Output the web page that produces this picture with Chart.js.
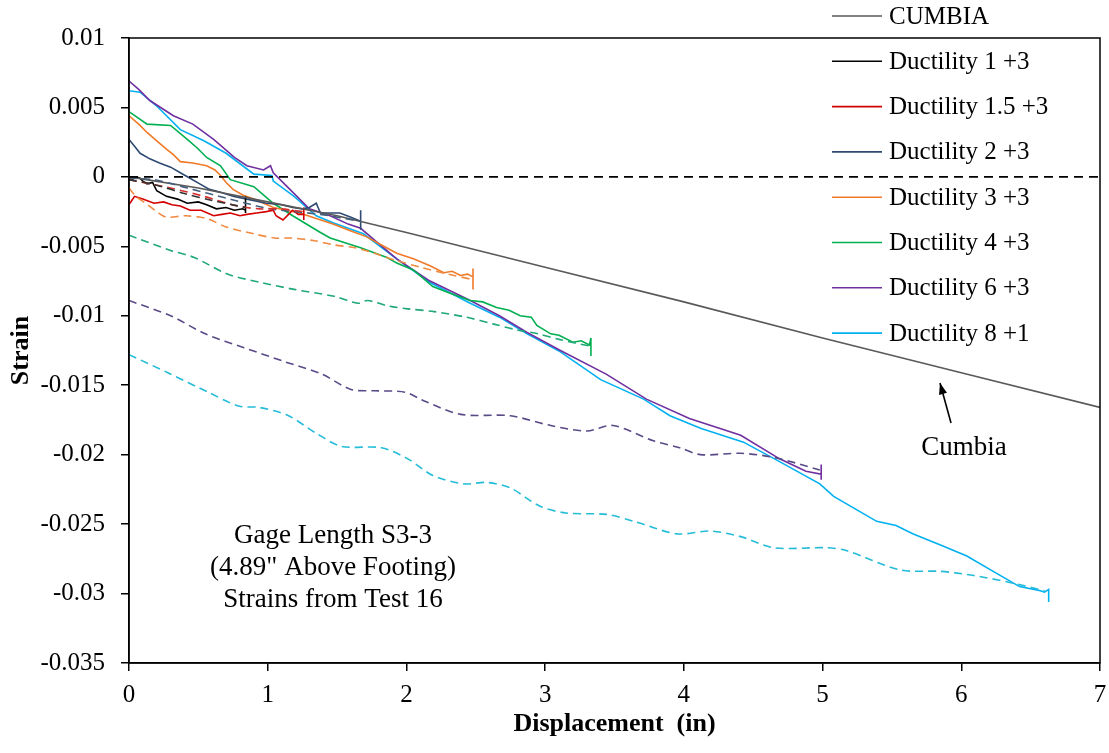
<!DOCTYPE html>
<html lang="en">
<head>
    <meta charset="UTF-8">
    <title>Strain vs Displacement - Gage Length S3-3</title>
    <script src="https://cdn.jsdelivr.net/npm/chart.js"></script>
    <style>
        body {
            margin: 0;
            background: #ffffff;
        }
        #wrap {
            width: 1109px;
            height: 753px;
        }
    </style>
</head>
<body>
    <div id="wrap">
        <canvas id="strainChart" width="1109" height="753"></canvas>
    </div>
    <script>
        // Datos (desplazamiento en pulgadas, deformacion unitaria)
        const cumbiaX = [0, 0.5, 1, 1.5, 2, 3, 4, 5, 6, 7];
        const cumbiaY = [0, -0.0008, -0.0018, -0.0028, -0.0040, -0.0065, -0.0090, -0.0116, -0.0141, -0.0166];

        const zeroX = [0, 7];
        const zeroY = [0, 0];

        const d1X = [0, 0.02, 0.05, 0.08, 0.1, 0.13, 0.17, 0.2, 0.27, 0.35, 0.42, 0.5, 0.56, 0.63, 0.7, 0.76, 0.82, 0.84, 0.84, 0.84];
        const d1Y = [0, -0.0002, 0, -0.0001, -0.0003, -0.0005, -0.0004, -0.0010, -0.0014, -0.0016, -0.0019, -0.0018, -0.0020, -0.0023, -0.0022, -0.0024, -0.0023, -0.0024, -0.0014, -0.0026];
        const d1DashX = [0, 0.2, 0.4, 0.6, 0.84];
        const d1DashY = [-0.0002, -0.0006, -0.0012, -0.0017, -0.0022];

        const d15X = [0, 0.02, 0.04, 0.1, 0.18, 0.25, 0.31, 0.37, 0.44, 0.52, 0.61, 0.67, 0.73, 0.8, 0.85, 0.92, 0.99, 1.04, 1.06, 1.11, 1.15, 1.18, 1.22, 1.26, 1.26, 1.26];
        const d15Y = [-0.0020, -0.0017, -0.0014, -0.0016, -0.0019, -0.0018, -0.0020, -0.0021, -0.0024, -0.0024, -0.0028, -0.0027, -0.0026, -0.0028, -0.0027, -0.0026, -0.0025, -0.0024, -0.0028, -0.0031, -0.0027, -0.0024, -0.0027, -0.0027, -0.0022, -0.0031];
        const d15DashX = [0, 0.3, 0.54, 0.78, 0.94, 1.09, 1.26];
        const d15DashY = [-0.0002, -0.0008, -0.0014, -0.0021, -0.0023, -0.0023, -0.0025];

        const d2X = [0, 0.04, 0.08, 0.15, 0.22, 0.3, 0.37, 0.44, 0.51, 0.58, 0.66, 0.75, 0.85, 0.99, 1.1, 1.18, 1.25, 1.3, 1.35, 1.38, 1.45, 1.52, 1.6, 1.67, 1.67, 1.67];
        const d2Y = [0.0027, 0.0022, 0.0017, 0.0013, 0.0010, 0.0007, 0.0003, -0.0001, -0.0005, -0.0009, -0.0011, -0.0014, -0.0016, -0.0019, -0.0020, -0.0022, -0.0023, -0.0022, -0.0019, -0.0026, -0.0026, -0.0026, -0.0029, -0.0032, -0.0024, -0.0038];
        const d2DashX = [0, 0.18, 0.42, 0.73, 1.02, 1.38, 1.67];
        const d2DashY = [-0.0001, -0.0002, -0.0008, -0.0016, -0.0023, -0.0027, -0.0032];

        const d3X = [0, 0.07, 0.13, 0.2, 0.27, 0.32, 0.37, 0.46, 0.56, 0.62, 0.66, 0.7, 0.75, 0.82, 0.9, 1.04, 1.23, 1.35, 1.47, 1.6, 1.71, 1.82, 1.93, 2.05, 2.17, 2.27, 2.33, 2.39, 2.44, 2.48, 2.48, 2.48];
        const d3Y = [0.0044, 0.0038, 0.0032, 0.0026, 0.0020, 0.0016, 0.0011, 0.0010, 0.0008, 0.0005, 0.0001, -0.0004, -0.0009, -0.0013, -0.0016, -0.0022, -0.0026, -0.0030, -0.0034, -0.0039, -0.0043, -0.0049, -0.0055, -0.0059, -0.0064, -0.0069, -0.0068, -0.0071, -0.0070, -0.0072, -0.0066, -0.0081];
        const d3DashX = [0, 0.05, 0.12, 0.2, 0.27, 0.41, 0.56, 0.7, 0.9, 1.05, 1.17, 1.34, 1.48, 1.63, 1.77, 1.92, 2.1, 2.3, 2.48];
        const d3DashY = [-0.0008, -0.0014, -0.0019, -0.0025, -0.0029, -0.0028, -0.0030, -0.0036, -0.0041, -0.0044, -0.0044, -0.0046, -0.0049, -0.0051, -0.0055, -0.0060, -0.0065, -0.0070, -0.0074];

        const d4X = [0, 0.13, 0.3, 0.42, 0.49, 0.56, 0.66, 0.73, 0.9, 1.04, 1.18, 1.38, 1.45, 1.67, 1.86, 1.93, 2.05, 2.19, 2.32, 2.46, 2.55, 2.65, 2.74, 2.82, 2.9, 2.94, 3.04, 3.1, 3.2, 3.26, 3.32, 3.33, 3.33];
        const d4Y = [0.0047, 0.0038, 0.0037, 0.0027, 0.0021, 0.0014, 0.0008, -0.0002, -0.0007, -0.0019, -0.0028, -0.0040, -0.0044, -0.0051, -0.0058, -0.0062, -0.0067, -0.0079, -0.0084, -0.0089, -0.0090, -0.0094, -0.0096, -0.0100, -0.0101, -0.0107, -0.0113, -0.0114, -0.0119, -0.0118, -0.0121, -0.0116, -0.0129];
        const d4DashX = [0, 0.3, 0.47, 0.71, 0.95, 1.19, 1.48, 1.65, 1.72, 1.87, 2.01, 2.2, 2.43, 2.63, 2.79, 2.95, 3.1, 3.33];
        const d4DashY = [-0.0042, -0.0053, -0.0058, -0.0070, -0.0076, -0.0081, -0.0086, -0.0091, -0.0089, -0.0093, -0.0095, -0.0097, -0.0101, -0.0106, -0.0110, -0.0113, -0.0117, -0.0122];

        const d6X = [0, 0.07, 0.15, 0.32, 0.46, 0.61, 0.76, 0.85, 0.97, 1.02, 1.04, 1.16, 1.3, 1.45, 1.58, 1.67, 1.8, 1.93, 2.17, 2.46, 2.67, 2.87, 3.11, 3.44, 3.73, 4.04, 4.41, 4.69, 4.88, 4.99, 4.99, 4.99];
        const d6Y = [0.0069, 0.0063, 0.0055, 0.0044, 0.0038, 0.0027, 0.0014, 0.0008, 0.0005, 0.0008, 0.0003, -0.0009, -0.0023, -0.0028, -0.0034, -0.0037, -0.0048, -0.0059, -0.0075, -0.0089, -0.0100, -0.0112, -0.0125, -0.0142, -0.0160, -0.0174, -0.0186, -0.0203, -0.0212, -0.0214, -0.0207, -0.0218];
        const d6DashX = [0, 0.3, 0.55, 0.83, 1.12, 1.39, 1.6, 1.77, 1.99, 2.12, 2.39, 2.75, 3.04, 3.3, 3.49, 3.78, 3.97, 4.12, 4.41, 4.65, 4.98];
        const d6DashY = [-0.0089, -0.0100, -0.0113, -0.0123, -0.0133, -0.0142, -0.0153, -0.0154, -0.0155, -0.0161, -0.0171, -0.0172, -0.0179, -0.0183, -0.0179, -0.0190, -0.0195, -0.0200, -0.0199, -0.0202, -0.0211];

        const d8X = [0, 0.08, 0.2, 0.37, 0.54, 0.7, 0.9, 1.03, 1.04, 1.19, 1.35, 1.47, 1.69, 1.93, 2.17, 2.46, 2.67, 2.87, 3.11, 3.4, 3.71, 3.9, 4.12, 4.43, 4.69, 4.98, 5.08, 5.39, 5.53, 5.65, 5.85, 6.04, 6.23, 6.42, 6.57, 6.6, 6.63, 6.63];
        const d8Y = [0.0062, 0.0061, 0.0051, 0.0034, 0.0026, 0.0017, 0.0002, 0.0001, -0.0003, -0.0014, -0.0028, -0.0033, -0.0041, -0.0059, -0.0076, -0.0091, -0.0101, -0.0113, -0.0126, -0.0146, -0.0160, -0.0172, -0.0181, -0.0191, -0.0205, -0.0221, -0.0230, -0.0248, -0.0251, -0.0257, -0.0265, -0.0273, -0.0284, -0.0295, -0.0298, -0.0299, -0.0297, -0.0306];
        const d8DashX = [0, 0.28, 0.57, 0.79, 0.94, 1.15, 1.34, 1.53, 1.82, 2.01, 2.19, 2.41, 2.58, 2.75, 2.96, 3.15, 3.44, 3.64, 3.95, 4.19, 4.41, 4.65, 5.03, 5.17, 5.56, 5.85, 6.09, 6.35, 6.6];
        const d8DashY = [-0.0128, -0.0141, -0.0155, -0.0165, -0.0166, -0.0172, -0.0184, -0.0194, -0.0195, -0.0203, -0.0215, -0.0221, -0.0220, -0.0224, -0.0237, -0.0242, -0.0243, -0.0248, -0.0257, -0.0255, -0.0259, -0.0267, -0.0267, -0.0269, -0.0283, -0.0284, -0.0287, -0.0292, -0.0298];

        const noteLines = ['Gage Length S3-3', '(4.89" Above Footing)', 'Strains from Test 16'];

        // juntar x e y en puntos
        function pts(xs, ys) {
            return xs.map((x, i) => ({ x: x, y: ys[i] }));
        }

        function solid(label, xs, ys, color) {
            return {
                label: label,
                legendLabel: label,
                data: pts(xs, ys),
                borderColor: color,
                backgroundColor: color,
                borderWidth: 1.6,
                tension: 0
            };
        }

        function dashed(xs, ys, color) {
            return {
                label: '',
                data: pts(xs, ys),
                borderColor: color,
                backgroundColor: color,
                borderWidth: 1.6,
                borderDash: [8, 5],
                tension: 0.3
            };
        }

        // leyenda y anotaciones dibujadas a mano (la leyenda sale por encima del marco)
        const extrasPlugin = {
            id: 'extras',
            afterDatasetsDraw(chart) {
                const ctx = chart.ctx;
                const area = chart.chartArea;
                ctx.save();

                // marco completo
                ctx.strokeStyle = '#000';
                ctx.lineWidth = 1.5;
                ctx.strokeRect(area.left, area.top, area.right - area.left, area.bottom - area.top);

                // leyenda
                ctx.font = '25px "Liberation Serif"';
                ctx.textBaseline = 'middle';
                ctx.textAlign = 'left';
                let row = 0;
                chart.data.datasets.forEach(ds => {
                    if (!ds.legendLabel) return;
                    const y = 16 + row * 45.3;
                    ctx.strokeStyle = ds.borderColor;
                    ctx.lineWidth = 1.6;
                    ctx.setLineDash([]);
                    ctx.beginPath();
                    ctx.moveTo(832, y);
                    ctx.lineTo(882, y);
                    ctx.stroke();
                    ctx.fillStyle = '#000';
                    ctx.fillText(ds.legendLabel, 889, y + 1);
                    row++;
                });

                // nota de la galga
                ctx.font = '27px "Liberation Serif"';
                ctx.textAlign = 'center';
                ctx.textBaseline = 'alphabetic';
                noteLines.forEach((t, i) => {
                    ctx.fillText(t, 333, 543 + i * 32);
                });

                // etiqueta Cumbia con flecha
                ctx.fillText('Cumbia', 964, 455);
                const x0 = 951, y0 = 423, x1 = 940, y1 = 383;
                ctx.strokeStyle = '#000';
                ctx.lineWidth = 1.6;
                ctx.beginPath();
                ctx.moveTo(x0, y0);
                ctx.lineTo(x1, y1);
                ctx.stroke();
                const ang = Math.atan2(y1 - y0, x1 - x0);
                ctx.beginPath();
                ctx.moveTo(x1, y1);
                ctx.lineTo(x1 - 12 * Math.cos(ang - 0.35), y1 - 12 * Math.sin(ang - 0.35));
                ctx.lineTo(x1 - 12 * Math.cos(ang + 0.35), y1 - 12 * Math.sin(ang + 0.35));
                ctx.closePath();
                ctx.fillStyle = '#000';
                ctx.fill();

                ctx.restore();
            }
        };

        Chart.defaults.font.family = '"Liberation Serif", "Times New Roman", serif';
        Chart.defaults.color = '#000';

        const ctx = document.getElementById('strainChart').getContext('2d');
        const chart = new Chart(ctx, {
            type: 'scatter',
            data: {
                datasets: [
                    {
                        label: '',
                        data: pts(zeroX, zeroY),
                        borderColor: '#000',
                        borderWidth: 1.6,
                        borderDash: [9, 6]
                    },
                    dashed(d1DashX, d1DashY, '#333333'),
                    dashed(d15DashX, d15DashY, '#d83030'),
                    dashed(d2DashX, d2DashY, '#45607f'),
                    dashed(d3DashX, d3DashY, '#f08a40'),
                    dashed(d4DashX, d4DashY, '#1fa878'),
                    dashed(d6DashX, d6DashY, '#5a4a88'),
                    dashed(d8DashX, d8DashY, '#25bcd8'),
                    solid('CUMBIA', cumbiaX, cumbiaY, '#595959'),
                    solid('Ductility 1 +3', d1X, d1Y, '#000000'),
                    solid('Ductility 1.5 +3', d15X, d15Y, '#d40000'),
                    solid('Ductility 2 +3', d2X, d2Y, '#2e4a72'),
                    solid('Ductility 3 +3', d3X, d3Y, '#f07a28'),
                    solid('Ductility 4 +3', d4X, d4Y, '#00b050'),
                    solid('Ductility 6 +3', d6X, d6Y, '#7030a0'),
                    solid('Ductility 8 +1', d8X, d8Y, '#00b0f0')
                ]
            },
            options: {
                responsive: false,
                animation: false,
                showLine: true,
                elements: {
                    point: { radius: 0, hoverRadius: 0 }
                },
                layout: {
                    padding: { top: 38, right: 9, left: 0, bottom: 0 }
                },
                plugins: {
                    legend: { display: false },
                    tooltip: { enabled: false }
                },
                scales: {
                    x: {
                        type: 'linear',
                        min: 0,
                        max: 7,
                        afterFit(scale) {
                            scale.height = 90;
                            scale.paddingLeft = 0;
                            scale.paddingRight = 0;
                        },
                        ticks: {
                            stepSize: 1,
                            padding: 9,
                            font: { size: 25 },
                            color: '#000'
                        },
                        grid: {
                            drawOnChartArea: false,
                            drawTicks: true,
                            tickLength: 8,
                            color: '#000',
                            lineWidth: 1.5
                        },
                        border: { color: '#000', width: 1.5 },
                        title: {
                            display: true,
                            text: 'Displacement  (in)',
                            font: { size: 26, weight: 'bold' },
                            color: '#000',
                            padding: { top: 0, bottom: 13 }
                        }
                    },
                    y: {
                        type: 'linear',
                        min: -0.035,
                        max: 0.01,
                        afterFit(scale) {
                            scale.width = 129;
                            scale.paddingTop = 0;
                            scale.paddingBottom = 0;
                        },
                        ticks: {
                            stepSize: 0.005,
                            padding: 16,
                            font: { size: 25 },
                            color: '#000',
                            callback: v => String(+v.toFixed(3))
                        },
                        grid: {
                            drawOnChartArea: false,
                            drawTicks: true,
                            tickLength: 8,
                            color: '#000',
                            lineWidth: 1.5
                        },
                        border: { color: '#000', width: 1.5 },
                        title: {
                            display: true,
                            text: 'Strain',
                            font: { size: 26, weight: 'bold' },
                            color: '#000',
                            padding: { top: 6, bottom: 0 }
                        }
                    }
                }
            },
            plugins: [extrasPlugin]
        });
    </script>
</body>
</html>
